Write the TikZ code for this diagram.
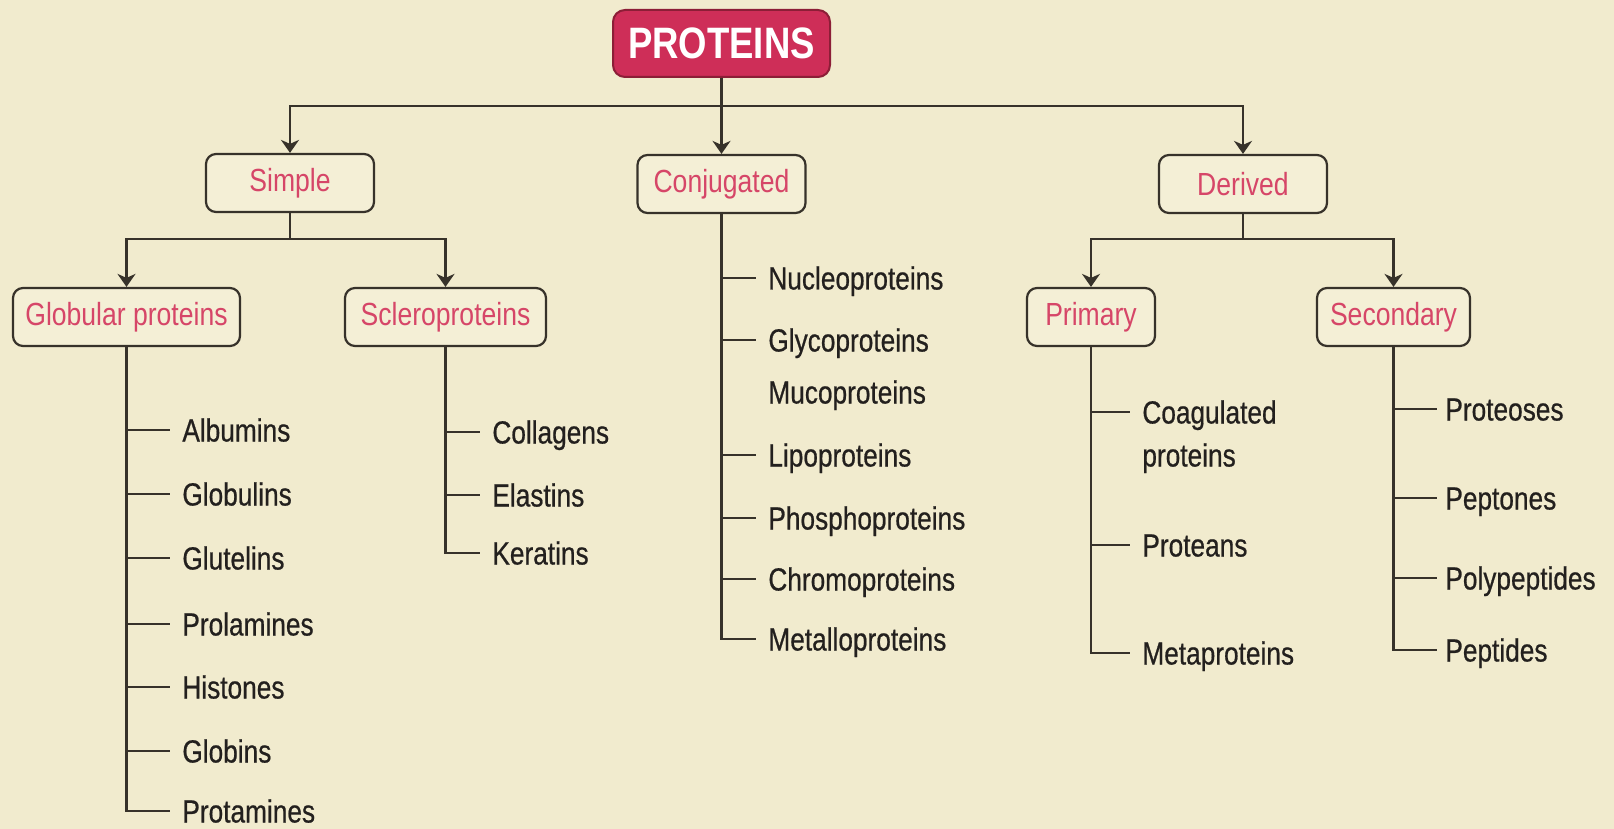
\documentclass[tikz,border=0pt]{standalone}
\usepackage{fontspec}
\setmainfont{Liberation Sans}[FakeStretch=0.83]
\newfontfamily\itemfont{Liberation Sans}[FakeStretch=0.82,FakeBold=0.6]
\usetikzlibrary{arrows.meta}
\definecolor{bg}{RGB}{241,235,206}
\definecolor{ink}{RGB}{55,50,42}
\definecolor{itemtxt}{RGB}{35,32,30}
\definecolor{pinktxt}{RGB}{214,70,104}
\definecolor{crim}{RGB}{206,46,88}
\definecolor{crimdark}{RGB}{140,30,55}
\definecolor{boxfill}{RGB}{244,239,214}
\begin{document}
\begin{tikzpicture}[x=0.5pt,y=-0.5pt,
  conn/.style={draw=ink,line width=1.3pt},
  arr/.style={conn,-{Stealth[length=6.5pt,width=9pt,inset=2pt]}},
  tick/.style={conn,shorten >=6pt},
  catbox/.style={draw=ink,line width=1.1pt,rounded corners=5pt,fill=boxfill,text=pinktxt,
    font=\fontsize{16}{19}\selectfont,inner sep=0pt,minimum height=29pt},
  titlebox/.style={draw=crimdark,line width=1pt,rounded corners=6pt,fill=crim,text=white,
    font=\fontsize{22}{26}\selectfont\bfseries,inner sep=0pt,minimum height=33.5pt,minimum width=108.5pt},
  item/.style={anchor=west,inner sep=0pt,text=itemtxt,font=\fontsize{16}{19}\itemfont,
    text height=11.5pt,text depth=0pt}
]
\useasboundingbox (0,0) rectangle (1614,829);
\fill[bg] (0,0) rectangle (1614,829);

% boxes
\node[titlebox] (prot) at (721.5,43.5) {PROTEINS};
\node[catbox,minimum width=84pt] (simple) at (290,183) {Simple};
\node[catbox,minimum width=84pt] (conj) at (721.5,184) {Conjugated};
\node[catbox,minimum width=84pt] (der) at (1243,184) {Derived};
\node[catbox,minimum width=113.5pt] (glob) at (126.5,317) {Globular proteins};
\node[catbox,minimum width=100.5pt] (scl) at (445.5,317) {Scleroproteins};
\node[catbox,minimum width=64pt] (prim) at (1091,317) {Primary};
\node[catbox,minimum width=76.5pt] (sec) at (1393.5,317) {Secondary};

\coordinate (bar) at (0,106);
\coordinate (sbar) at (0,239);

% top level connectors
\draw[arr] (prot.south) -- (conj.north);
\draw[arr] (prot.south) -- (bar -| prot.south) -| (simple.north);
\draw[arr] (prot.south) -- (bar -| prot.south) -| (der.north);
% second level
\draw[arr] (simple.south) -- (sbar -| simple.south) -| (glob.north);
\draw[arr] (simple.south) -- (sbar -| simple.south) -| (scl.north);
\draw[arr] (der.south) -- (sbar -| der.south) -| (prim.north);
\draw[arr] (der.south) -- (sbar -| der.south) -| (sec.north);

% Globular list
\node[item] (alb) at (182,430) {Albumins};
\node[item] (glo) at (182,494) {Globulins};
\node[item] (glu) at (182,558) {Glutelins};
\node[item] (pro) at (182,624) {Prolamines};
\node[item] (his) at (182,687) {Histones};
\node[item] (gbn) at (182,751) {Globins};
\node[item] (ptm) at (182,811) {Protamines};
\draw[tick] (glob.south) |- (ptm.west);
\foreach \n in {alb,glo,glu,pro,his,gbn} \draw[tick] (glob.south |- \n.west) -- (\n.west);

% Sclero list
\node[item] (col) at (492,432) {Collagens};
\node[item] (ela) at (492,495) {Elastins};
\node[item] (ker) at (492,553) {Keratins};
\draw[tick] (scl.south) |- (ker.west);
\foreach \n in {col,ela} \draw[tick] (scl.south |- \n.west) -- (\n.west);

% Conjugated list
\node[item] (nuc) at (768,278) {Nucleoproteins};
\node[item] (gly) at (768,340) {Glycoproteins};
\node[item] (muc) at (768,392) {Mucoproteins};
\node[item] (lip) at (768,455) {Lipoproteins};
\node[item] (pho) at (768,518) {Phosphoproteins};
\node[item] (chr) at (768,579) {Chromoproteins};
\node[item] (met) at (768,639) {Metalloproteins};
\draw[tick] (conj.south) |- (met.west);
\foreach \n in {nuc,gly,lip,pho,chr} \draw[tick] (conj.south |- \n.west) -- (\n.west);

% Primary list
\node[item] (coa) at (1142,412) {Coagulated};
\node[item] (coa2) at (1142,455) {proteins};
\node[item] (ptn) at (1142,545) {Proteans};
\node[item] (mtp) at (1142,653) {Metaproteins};
\draw[tick] (prim.south) |- (mtp.west);
\foreach \n in {coa,ptn} \draw[tick] (prim.south |- \n.west) -- (\n.west);

% Secondary list
\node[item] (pts) at (1445,409) {Proteoses};
\node[item] (ptp) at (1445,498) {Peptones};
\node[item] (pol) at (1445,578) {Polypeptides};
\node[item] (pep) at (1445,650) {Peptides};
\draw[tick,shorten >=4pt] (sec.south) |- (pep.west);
\foreach \n in {pts,ptp,pol} \draw[tick,shorten >=4pt] (sec.south |- \n.west) -- (\n.west);
\end{tikzpicture}
\end{document}
